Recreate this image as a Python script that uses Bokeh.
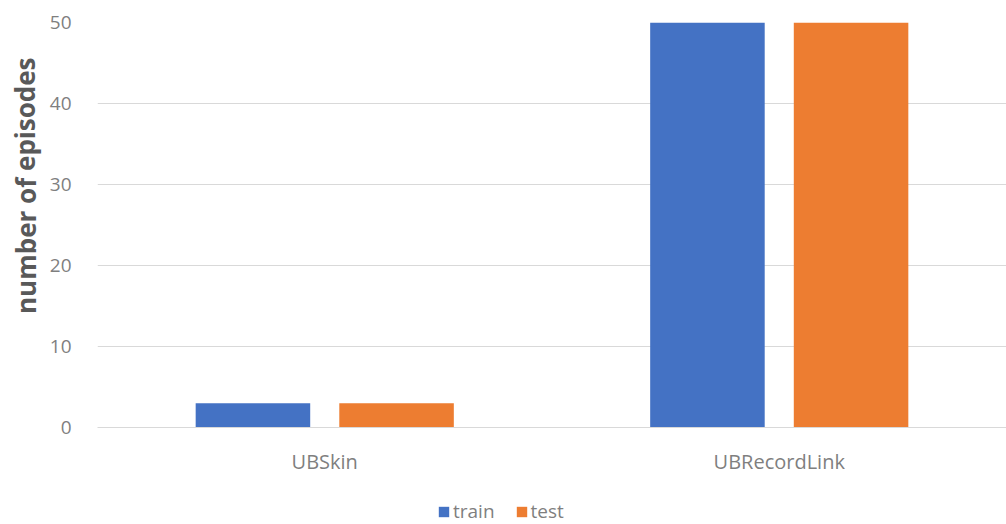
from bokeh.plotting import figure
from bokeh.layouts import column, row
from bokeh.models import FactorRange, Range1d, Legend, LegendItem, FixedTicker, Label
from bokeh.transform import dodge
from bokeh.embed import file_html
from bokeh.resources import INLINE

categories = ["UBSkin", "UBRecordLink"]
series = ["train", "test"]
train = [3, 50]
test = [3, 50]
y_ticks = [0, 10, 20, 30, 40, 50]
y_title = "number of episodes"

BLUE = "#4472C4"
ORANGE = "#ED7D31"
GRID = "#D9D9D9"
TICK_TXT = "#7F7F7F"
FONT = "Open Sans"


def blank(width, height):
    f = figure(width=width, height=height, x_range=Range1d(0, 1), y_range=Range1d(0, 1),
               x_axis_location=None, y_axis_location=None,
               output_backend="svg", toolbar_location=None,
               min_border=0, outline_line_color=None)
    f.grid.visible = False
    return f


# main bar chart
p = figure(
    width=960, height=490,
    x_range=FactorRange(*categories, range_padding=0),
    y_range=Range1d(0, 50),
    output_backend="svg", toolbar_location=None,
    min_border_left=51, min_border_right=0,
    min_border_top=22, min_border_bottom=63,
)
p.outline_line_color = None

data = dict(cat=categories, train=train, test=test)
p.vbar(x=dodge("cat", -0.158, range=p.x_range), top="train", width=0.252,
       source=data, fill_color=BLUE, line_color=None)
p.vbar(x=dodge("cat", 0.158, range=p.x_range), top="test", width=0.252,
       source=data, fill_color=ORANGE, line_color=None)

p.yaxis.ticker = FixedTicker(ticks=y_ticks)
p.yaxis.axis_line_color = None
p.yaxis.major_tick_line_color = None
p.yaxis.minor_tick_line_color = None
p.yaxis.major_label_standoff = 20
p.yaxis.major_label_text_font = FONT
p.yaxis.major_label_text_font_size = "19px"
p.yaxis.major_label_text_color = TICK_TXT

p.xaxis.axis_line_color = GRID
p.xaxis.major_tick_line_color = None
p.xaxis.minor_tick_line_color = None
p.xaxis.major_label_standoff = 14
p.xaxis.major_label_text_font = FONT
p.xaxis.major_label_text_font_size = "20px"
p.xaxis.major_label_text_color = TICK_TXT

p.xgrid.grid_line_color = None
p.ygrid.grid_line_color = GRID
p.ygrid.grid_line_width = 1

# y title strip on the left
yt = blank(46, 490)
yt.add_layout(Label(
    x=25 / 46, y=0.597,
    text=y_title, angle=1.5708,
    text_font=FONT, text_font_size="26px", text_font_style="bold",
    text_color="#595959", text_align="center", text_baseline="middle",
))

# legend strip underneath the chart
lg = blank(1006, 34)
sw_train = lg.rect(x=[5], y=[5], width=1, height=1, fill_color=BLUE, line_color=None)
sw_test = lg.rect(x=[5], y=[5], width=1, height=1, fill_color=ORANGE, line_color=None)

legend = Legend(
    items=[LegendItem(label=s, renderers=[r]) for s, r in zip(series, (sw_train, sw_test))],
    orientation="horizontal", location=(437, 0),
    glyph_width=13, glyph_height=13, spacing=20, padding=2, margin=0,
    label_text_font=FONT, label_text_font_size="19px", label_text_color=TICK_TXT,
    label_standoff=3, border_line_color=None, background_fill_alpha=0,
)
lg.add_layout(legend, "center")

layout = column(row(yt, p, spacing=0), lg, spacing=0)
open("out.html", "w").write(file_html(layout, INLINE))
